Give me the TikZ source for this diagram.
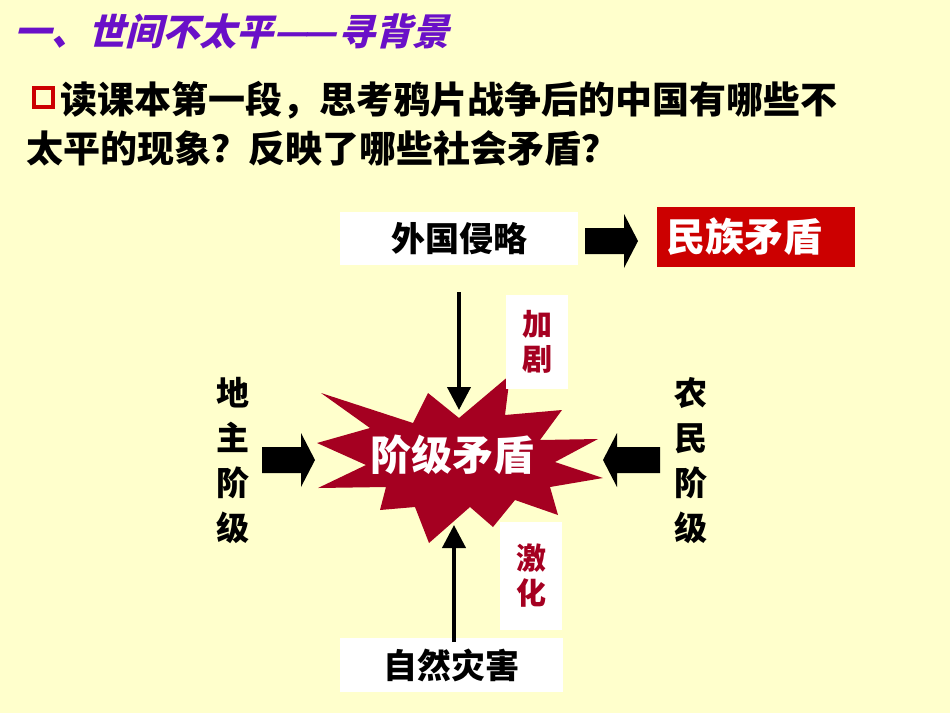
\documentclass[tikz,border=0pt]{standalone}
\usepackage{fontspec}
\setmainfont{Noto Sans CJK SC}
\newfontfamily\titlefont[FakeSlant=0.25]{Noto Sans CJK SC}
\usetikzlibrary{arrows.meta}
\definecolor{bg}{HTML}{FFFFCC}
\definecolor{titlepurple}{HTML}{6A10C8}
\definecolor{boxred}{HTML}{CC0000}
\definecolor{burst}{HTML}{A50021}
\begin{document}
\begin{tikzpicture}[x=1pt,y=-1pt,
  whitebox/.style={fill=white, inner sep=0pt, font=\fontsize{34}{36}\selectfont\bfseries},
  sidetext/.style={align=center, inner sep=0pt, font=\fontsize{33}{45}\selectfont\bfseries},
  redlabel/.style={fill=white, inner sep=0pt, align=center, text=burst, font=\fontsize{30}{35}\selectfont\bfseries},
  thickarrow/.style={line width=4pt, -{Triangle[width=23pt,length=23pt]}},
  barrow/.pic={\fill[black] (-#1,-13) -- (-14,-13) -- (-14,-27) -- (0,0) -- (-14,27) -- (-14,13) -- (-#1,13) -- cycle;}
]
\useasboundingbox (0,0) rectangle (950,713);
\fill[bg] (0,0) rectangle (950,713);

% title
\node[anchor=west, inner sep=0pt, text=titlepurple, font=\titlefont\fontsize{37}{40}\selectfont\bfseries] (title) at (14,31) {一、世间不太平—\kern-5pt—\kern3pt寻背景};

% question
\draw[boxred, line width=4pt] (34,88) rectangle (53,107);
\node[anchor=west, inner sep=0pt, font=\fontsize{37}{40}\selectfont\bfseries] (q1) at (60,100) {读课本第一段，思考鸦片战争后的中国有哪些不};
\node[anchor=west, inner sep=0pt, font=\fontsize{37}{40}\selectfont\bfseries] (q2) at (26,148) {太平的现象？反映了哪些社会矛盾？};

% top row
\node[whitebox, minimum width=238pt, minimum height=53pt] (wg) at (459,238.5) {外国侵略};
\node[fill=boxred, text=white, inner sep=0pt, minimum width=198pt, minimum height=60pt, font=\fontsize{39}{40}\selectfont\bfseries] (mz) at (756,237) {\hspace*{-24pt}民族矛盾};
\pic at (638,241) {barrow=53};

% starburst
\fill[burst] (321,393) -- (413,423) -- (428,393) -- (459,418) -- (510,375) -- (505,415)
  -- (562,410) -- (540,440) -- (598,439) -- (555,462) -- (603,478) -- (550,487)
  -- (558,515) -- (515,500) -- (493,527) -- (470,507) -- (429,543) -- (415,507)
  -- (380,510) -- (386,487) -- (318,488) -- (366,465) -- (317,443) -- (370,428) -- cycle;
\node[text=white, inner sep=0pt, font=\fontsize{41}{44}\selectfont\bfseries] (jj) at (452,455) {阶级矛盾};

% labels
\node[redlabel, minimum width=62pt, minimum height=94pt] (jiaju) at (537,342) {加\\剧};
\node[redlabel, minimum width=62pt, minimum height=108pt] (jihua) at (531,576) {激\\化};

% bottom box
\node[whitebox, minimum width=223pt, minimum height=54pt] (zr) at (451.5,665) {自然灾害};

% vertical arrows
\coordinate (topin) at (459,410);
\coordinate (botin) at (454,525);
\coordinate (botout) at (454,642);
\draw[thickarrow, shorten <=27pt] (wg.south -| topin) -- (topin);
\draw[thickarrow] (botout) -- (botin);

% side texts
\node[sidetext] (dz) at (233,460.5) {地\\主\\阶\\级};
\node[sidetext] (nm) at (691,460.5) {农\\民\\阶\\级};
\pic at (315,460) {barrow=53};
\pic[rotate=180] at (603,460) {barrow=57};
\end{tikzpicture}
\end{document}
